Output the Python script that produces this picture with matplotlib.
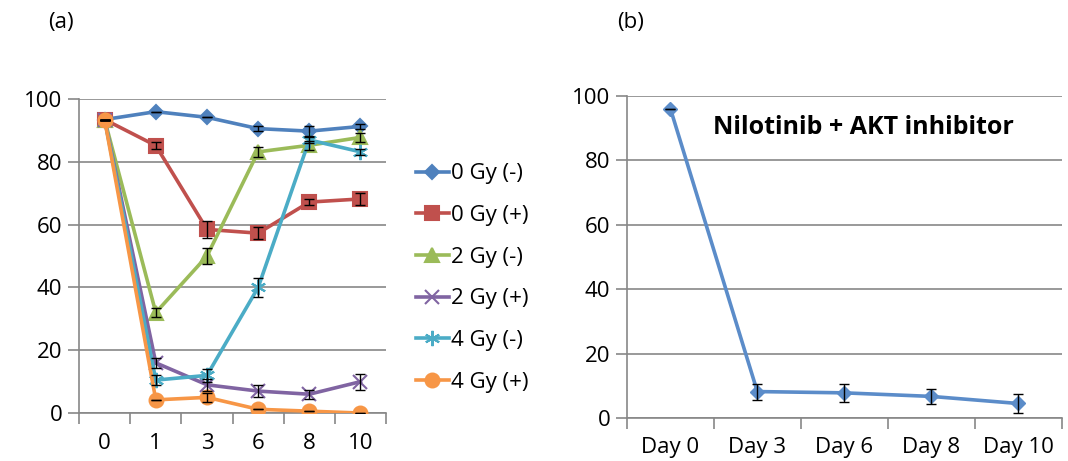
import matplotlib.pyplot as plt
from matplotlib.ticker import FixedLocator, NullFormatter

plt.rcParams['font.family'] = ['Open Sans', 'DejaVu Sans']

# panel (a)
days_a = ['0', '1', '3', '6', '8', '10']
labels_a = ['0 Gy (-)', '0 Gy (+)', '2 Gy (-)', '2 Gy (+)', '4 Gy (-)', '4 Gy (+)']
gy0_neg = [93.5, 96.0, 94.2, 90.6, 89.8, 91.3]
gy0_pos = [93.5, 85.2, 58.5, 57.3, 67.2, 68.2]
gy2_neg = [93.5, 32.0, 50.0, 83.2, 85.3, 87.8]
gy2_pos = [93.5, 16.0, 9.0, 7.0, 6.0, 10.0]
gy4_neg = [93.5, 10.5, 12.0, 40.0, 87.0, 83.2]
gy4_pos = [93.5, 4.2, 5.0, 1.2, 0.6, 0.0]
err0_neg = [0, 0, 0, 0.8, 1.5, 0.8]
err0_pos = [0, 1.0, 2.8, 2.0, 1.0, 2.0]
err2_neg = [0, 1.5, 2.5, 1.5, 1.5, 1.5]
err2_pos = [0, 1.5, 2.0, 2.0, 1.5, 2.5]
err4_neg = [0, 1.5, 2.0, 3.0, 1.0, 1.0]
err4_pos = [0, 0, 1.5, 0, 0, 0]

# panel (b)
days_b = ['Day 0', 'Day 3', 'Day 6', 'Day 8', 'Day 10']
combo = [96.0, 8.2, 7.8, 6.7, 4.5]
combo_err = [0, 2.5, 2.8, 2.3, 3.0]

series = [gy0_neg, gy0_pos, gy2_neg, gy2_pos, gy4_neg, gy4_pos]
errors = [err0_neg, err0_pos, err2_neg, err2_pos, err4_neg, err4_pos]
colors = ['#4F81BD', '#C0504D', '#9BBB59', '#8064A2', '#4BACC6', '#F79646']
markers = ['D', 's', '^', 'x', (6, 2, 0), 'o']
msizes = [7.5, 10, 10, 10, 11, 10]

fs = 16

fig = plt.figure(figsize=(10.68, 4.61), dpi=100)
ax1 = fig.add_axes([0.074, 0.104, 0.2875, 0.681])
ax2 = fig.add_axes([0.587, 0.0933, 0.407, 0.699])


def style_axis(ax, n, labels, xpad):
    ax.set_xlim(-0.5, n - 0.5)
    ax.set_ylim(0, 100)
    ax.set_yticks([0, 20, 40, 60, 80, 100])
    ax.set_xticks(range(n))
    ax.set_xticklabels(labels)
    ax.xaxis.set_minor_locator(FixedLocator([i - 0.5 for i in range(n + 1)]))
    ax.xaxis.set_minor_formatter(NullFormatter())
    ax.tick_params(axis='x', which='major', length=0, pad=xpad, labelsize=fs)
    ax.tick_params(axis='x', which='minor', length=8, color='#878787', width=1.2)
    ax.tick_params(axis='y', length=8, color='#878787', width=1.2, labelsize=fs, pad=4)
    ax.grid(axis='y', color='#878787', linewidth=1.2)
    ax.set_axisbelow(True)
    for s in ['top', 'right']:
        ax.spines[s].set_visible(False)
    for s in ['left', 'bottom']:
        ax.spines[s].set_color('#878787')
        ax.spines[s].set_linewidth(1.2)


xa = list(range(len(days_a)))
handles = []
for vals, errs, c, m, ms, lab in zip(series, errors, colors, markers, msizes, labels_a):
    ax1.errorbar(xa, vals, yerr=errs, fmt='none', ecolor='black', elinewidth=1,
                 capsize=3.5, capthick=1, zorder=4)
    h, = ax1.plot(xa, vals, color=c, linewidth=2.6, marker=m, markersize=ms,
                  markeredgewidth=1.5, zorder=3, label=lab)
    handles.append(h)
style_axis(ax1, len(days_a), days_a, 14)

fig.legend(handles=handles, loc='upper left', bbox_to_anchor=(0.381, 0.665),
           frameon=False, fontsize=fs, handlelength=1.5, handletextpad=0.1,
           labelspacing=0.93, borderaxespad=0)

xb = list(range(len(days_b)))
ax2.errorbar(xb, combo, yerr=combo_err, fmt='none', ecolor='black', elinewidth=1,
             capsize=3.5, capthick=1, zorder=4)
ax2.plot(xb, combo, color='#5B8CC9', linewidth=2.6, marker='D', markersize=7.5, zorder=3)
style_axis(ax2, len(days_b), days_b, 14)
ax2.text(0.545, 0.9, 'Nilotinib + AKT inhibitor', transform=ax2.transAxes,
         fontsize=18, fontweight='bold', ha='center', va='center')

fig.text(0.045, 0.952, '(a)', fontsize=fs, ha='left', va='center')
fig.text(0.578, 0.952, '(b)', fontsize=fs, ha='left', va='center')

fig.savefig('out.png', dpi=100)
